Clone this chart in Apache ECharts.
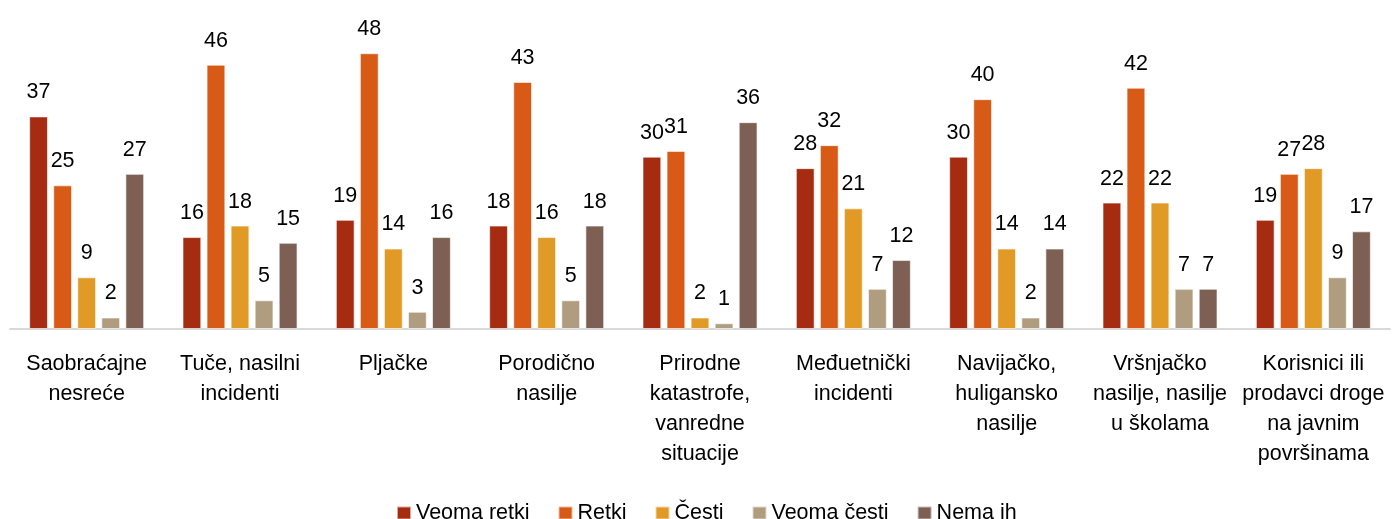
<!DOCTYPE html>
<html>
<head>
<meta charset="utf-8">
<script src="https://cdn.jsdelivr.net/npm/echarts@6/dist/echarts.min.js"></script>
<style>
  html, body { margin: 0; padding: 0; background: #fff; }
  #chart { width: 1392px; height: 519px; }
</style>
</head>
<body>
<div id="chart"></div>
<script>
const categories = [
    "Saobraćajne\nnesreće",
    "Tuče, nasilni\nincidenti",
    "Pljačke",
    "Porodično\nnasilje",
    "Prirodne\nkatastrofe,\nvanredne\nsituacije",
    "Međuetnički\nincidenti",
    "Navijačko,\nhuligansko\nnasilje",
    "Vršnjačko\nnasilje, nasilje\nu školama",
    "Korisnici ili\nprodavci droge\nna javnim\npovršinama",
];
const seriesNames = ["Veoma retki", "Retki", "Česti", "Veoma česti", "Nema ih"];
const veomaRetki = [37, 16, 19, 18, 30, 28, 30, 22, 19];
const retki = [25, 46, 48, 43, 31, 32, 40, 42, 27];
const cesti = [9, 18, 14, 16, 2, 21, 14, 22, 28];
const veomaCesti = [2, 5, 3, 5, 1, 7, 2, 7, 9];
const nemaIh = [27, 15, 16, 18, 36, 12, 14, 7, 17];
const values = [veomaRetki, retki, cesti, veomaCesti, nemaIh];

const colors = ["#A52C10", "#D75A17", "#E29A26", "#B09C7E", "#7D6053"];
const font = "'Liberation Sans', Arial, sans-serif";

const chart = echarts.init(document.getElementById("chart"));

const option = {
    color: colors,
    animation: false,
    textStyle: { fontFamily: font },
    legend: {
        top: 497,
        left: 391,
        itemWidth: 14,
        itemHeight: 13,
        itemGap: 28,
        icon: "rect",
        textStyle: { fontSize: 21.5, color: "#000", fontFamily: font },
        data: seriesNames,
    },
    grid: {
        left: 10,
        right: 2,
        top: 13,
        bottom: 190,
        outerBoundsMode: "none",
    },
    xAxis: {
        type: "category",
        data: categories,
        axisLine: { lineStyle: { color: "#D9D9D9", width: 2 } },
        axisTick: { show: false },
        axisLabel: {
            interval: 0,
            margin: 20,
            fontSize: 21.5,
            lineHeight: 30,
            color: "#000",
            fontFamily: font,
        },
    },
    yAxis: {
        type: "value",
        min: 0,
        max: 55,
        show: false,
        splitLine: { show: false },
    },
    series: seriesNames.map((name, i) => ({
        name: name,
        type: "bar",
        data: values[i],
        barGap: "28%",
        barCategoryGap: "25%",
        itemStyle: { borderColor: "rgba(255,255,255,0.6)", borderWidth: 1 },
        label: {
            show: true,
            position: "top",
            distance: 13,
            fontSize: 21.5,
            color: "#000",
            fontFamily: font,
        },
    })),
};

chart.setOption(option);
</script>
</body>
</html>
